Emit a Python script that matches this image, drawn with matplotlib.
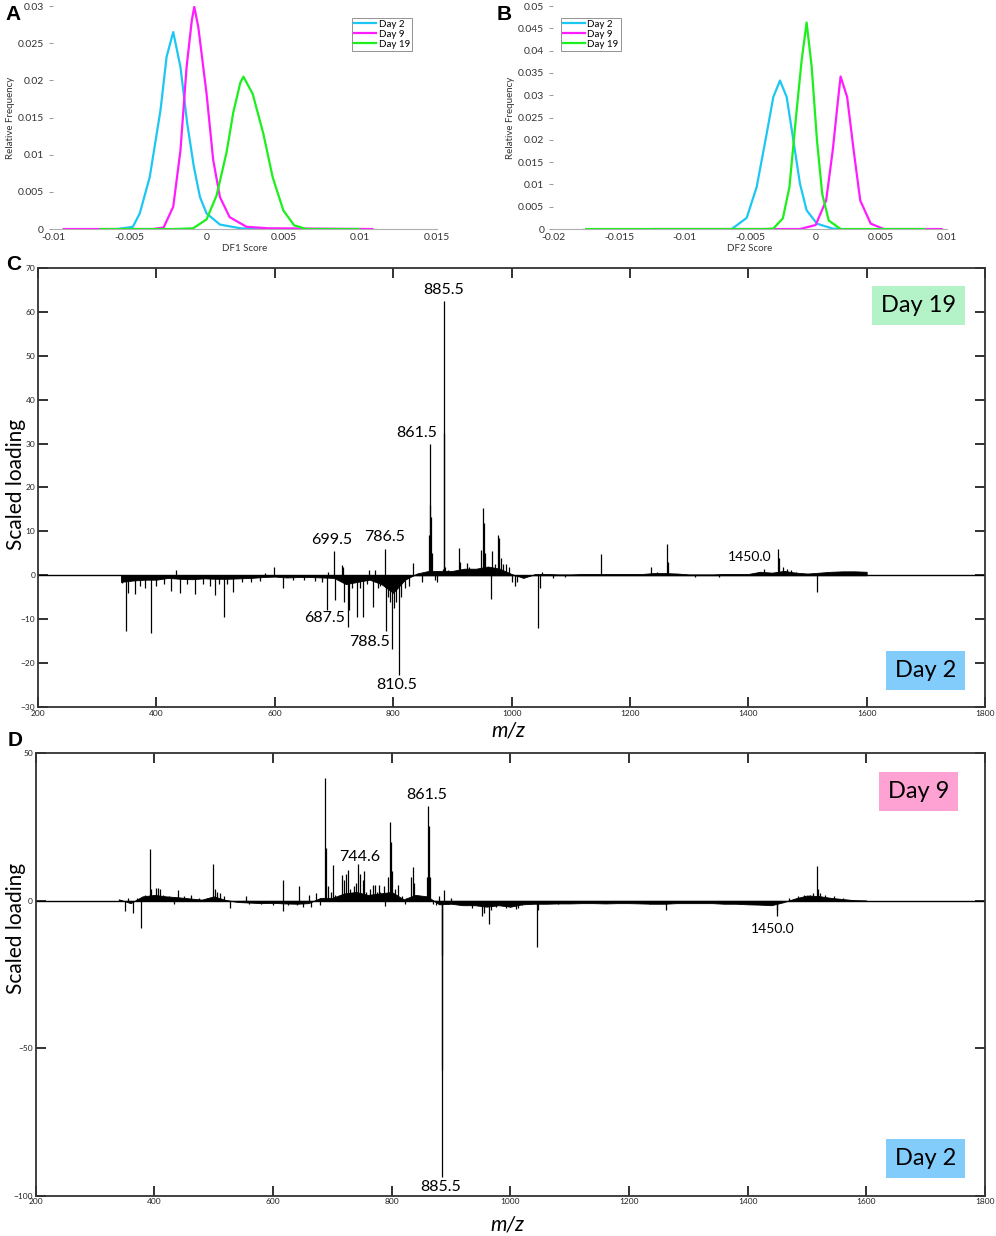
import matplotlib
matplotlib.use("Agg")
import matplotlib.pyplot as plt

plt.rcParams['font.family'] = ['Lato', 'DejaVu Sans']

# ---- panel A: DF1 score distributions ----
a_day2_x = [-0.0058, -0.0048, -0.00435, -0.0037, -0.0030, -0.0026, -0.00217, -0.0017, -0.00126, -0.00083, -0.00043, 0.0, 0.00087, 0.0022, 0.0035]
a_day2_y = [0, 0.0003, 0.0021, 0.007, 0.016, 0.0232, 0.0265, 0.0218, 0.0142, 0.0084, 0.0043, 0.0021, 0.0006, 0.0001, 0]
a_day9_x = [-0.0093, -0.0035, -0.0028, -0.00217, -0.0017, -0.0013, -0.00096, -0.0008, -0.00054, 0.0, 0.00043, 0.00087, 0.0015, 0.0026, 0.004, 0.0108]
a_day9_y = [0, 0, 0.0002, 0.003, 0.0106, 0.0218, 0.0281, 0.0299, 0.0272, 0.0182, 0.0093, 0.0043, 0.0016, 0.0003, 0.0001, 0]
a_day19_x = [-0.0069, -0.002, -0.00087, 0.0, 0.00065, 0.0013, 0.00174, 0.0022, 0.0024, 0.003, 0.0037, 0.0043, 0.005, 0.0057, 0.0065, 0.0099]
a_day19_y = [0, 0, 0.0001, 0.0013, 0.0045, 0.0103, 0.0157, 0.0197, 0.0205, 0.0182, 0.0128, 0.007, 0.0025, 0.0005, 0, 0]

# ---- panel B: DF2 score distributions ----
b_day2_x = [-0.0064, -0.00526, -0.0045, -0.00374, -0.00323, -0.00272, -0.00221, -0.0017, -0.0012, -0.00069, 0.0001, 0.0013, 0.002]
b_day2_y = [0, 0.0025, 0.0094, 0.0213, 0.0296, 0.0333, 0.0296, 0.0199, 0.0102, 0.0042, 0.0012, 0.0001, 0]
b_day9_x = [-0.0125, -0.0012, 0.0, 0.0008, 0.0013, 0.0017, 0.0019, 0.0024, 0.0029, 0.0034, 0.0042, 0.0052, 0.0096]
b_day9_y = [0, 0, 0.0009, 0.0064, 0.0176, 0.0288, 0.0342, 0.0296, 0.0176, 0.0064, 0.0012, 0, 0]
b_day19_x = [-0.0175, -0.004, -0.00323, -0.0025, -0.002, -0.0015, -0.00107, -0.00069, -0.0003, 0.0001, 0.0005, 0.001, 0.0019, 0.0083]
b_day19_y = [0, 0, 0.0001, 0.0024, 0.0094, 0.0251, 0.0378, 0.0463, 0.0363, 0.0199, 0.0079, 0.0019, 0, 0]

# ---- panel C: DF1 loadings (Day 19 vs Day 2) ----
c_base_mz = list(range(340, 1601, 20))
c_base_val = [-1.5, -1.2, -1.0, -1.0, -0.6, -0.8, -0.9, -0.7, -0.8, -0.8, -0.7, -0.6, -0.4, -0.3, -0.5, -0.4,
              -0.4, -0.5, -0.6, -2.0, -1.5, -1.0, -2.0, -4.0, -1.0, 0.4, 1.0, 1.0, 1.0, 1.5, 1.5, 2.0,
              1.5, 0.3, -0.6, 0.3, 0.3, 0.2, 0.2, 0.3, 0.3, 0.3, 0.3, 0.3, 0.3, 0.5, 0.5, 0.4,
              0.2, 0.2, 0.2, 0.3, 0.3, 0.3, 0.8, 0.6, 1.0, 0.6, 0.4, 0.6, 0.8, 0.9, 0.9, 0.8]
c_peak_mz = [342, 348.5, 352, 364, 372, 380, 391, 400, 412, 425, 433, 440, 452, 465, 478, 490, 499, 505,
             514.8, 520, 529, 545, 560, 575, 583, 598.6, 614, 630, 650, 668, 680, 687.5, 690, 699.5, 701.7,
             713, 716, 717.5, 723, 725.5, 731, 739, 744, 749.6, 755, 759.7, 766.5, 769, 775, 778, 786.5,
             788.5, 790.6, 795, 798.5, 801, 804, 810.5, 814, 820, 826, 834, 848,
             860, 861.5, 862.5, 864, 865.5, 870, 874, 880, 884, 885.5, 886.5, 888, 893, 900, 905, 911, 913,
             924, 928, 932, 941, 949, 951, 953, 955, 965.5, 967.5, 972, 977, 979, 982, 986, 990, 995,
             1000, 1005, 1010, 1045, 1048, 1052, 1070, 1090, 1151, 1235, 1246, 1262, 1264, 1310, 1350,
             1427, 1450.0, 1452, 1458, 1466, 1472, 1480, 1516]
c_peak_val = [-1.8, -12.7, -4.0, -4.2, -2.5, -2.8, -13.1, -2.5, -2.0, -3.5, 1.1, -4.0, -2.0, -4.2, -2.0, -2.5, -4.5, -2.0,
              -9.6, -2.0, -3.8, -1.5, -1.5, -1.2, 0.6, 2.0, -2.8, -1.0, -1.0, -1.2, -1.5, -8.0, 0.8, 5.5, -5.7,
              2.3, 2.0, -6.0, -11.8, -8.0, -3.0, -9.5, -3.0, -9.6, -2.0, 1.3, -7.2, 1.3, -3.0, -2.5, 6.1,
              -12.7, -5.0, -6.0, -16.9, -7.5, -6.0, -22.8, -5.0, -3.0, -2.5, 2.7, -1.5,
              9.1, 30.0, 16.0, 13.3, 5.0, -1.0, -1.5, 0.8, 1.5, 62.5, 32.5, 2.0, 1.2, 0.8, 1.0, 6.3, 3.0,
              2.7, 2.0, 1.5, 1.2, 5.7, 15.4, 12.0, 5.0, -5.5, 5.5, 2.5, 9.1, 8.6, 4.0, 2.5, 2.5, 2.0,
              -1.5, -2.5, -1.5, -12.0, -3.0, 0.8, -0.6, -0.5, 4.9, 2.0, 0.8, 7.2, 3.0, -0.4, -0.3,
              1.5, 5.9, 4.0, 2.0, 1.5, 1.2, 0.8, -3.8]
c_labels = ['885.5', '861.5', '699.5', '786.5', '687.5', '788.5', '810.5', '1450.0']
c_label_mz = [884.6, 839.7, 696.1, 786.1, 684.8, 760.8, 806.0, 1402.7]
c_label_val = [64.9, 32.4, 8.0, 8.7, -9.8, -15.2, -25.0, 4.1]

# ---- panel D: DF2 loadings (Day 9 vs Day 2) ----
d_base_mz = list(range(340, 1601, 20))
d_base_val = [0.5, -0.8, 1.5, 2.0, 1.5, 1.2, 0.8, 0.4, 1.5, 0.3, -0.4, -0.6, -0.8, -0.7, -0.9, -1.0,
              -0.8, 1.0, 1.0, 2.5, 3.0, 2.0, 2.5, 3.0, 0.5, 2.0, 1.5, -1.2, -1.0, -1.5, -1.5, -2.0,
              -1.5, -2.0, -1.2, -1.0, -1.0, -0.9, -0.9, -0.8, -0.8, -0.9, -0.8, -0.8, -0.9, -1.0, -1.0, -0.8,
              -0.8, -0.8, -0.8, -1.0, -1.0, -1.2, -1.3, -1.5, -0.5, 0.8, 1.8, 1.6, 1.0, 0.6, 0.2, 0.1]
d_peak_mz = [349.8, 355, 364.4, 370, 376.8, 385, 391.9, 395, 402, 406, 409, 415, 425, 433, 440, 450, 462, 475,
             499, 502, 505, 511, 518, 528, 555, 560, 580, 600, 616.4, 617, 625, 640, 643.3, 650, 660, 664,
             673, 680, 687, 688.5, 692, 697, 701, 705, 716.3, 719, 723, 726.4, 730, 737, 739.6, 743.2,
             746.5, 751, 752.7, 757, 764, 768, 772, 775, 778, 781, 787.5, 789, 793, 796.5, 798.8, 801,
             805, 810, 817, 822, 833, 835.3, 837, 845, 855, 859, 861, 862.5, 864, 870, 875, 880,
             884, 885, 885.5, 889, 895, 900, 915, 935, 952, 955, 960, 964.8, 968, 975, 985, 993,
             1000, 1010, 1013, 1020, 1044.6, 1047, 1080, 1235, 1261.7, 1300, 1448.6, 1450, 1470, 1485,
             1495, 1505, 1510, 1516, 1518, 1522, 1530, 1545, 1560]
d_peak_val = [-3.6, 1.0, -4.0, 0.8, -9.3, 2.0, 17.6, 4.0, 4.3, 4.3, 4.0, 2.0, 1.5, -1.0, 3.5, 1.5, 2.0, 0.8,
              12.4, 4.0, 3.0, 2.8, 1.5, -2.3, 1.5, -1.0, -1.2, -1.3, 7.1, -3.4, -1.5, -1.5, 4.9, -2.0, 2.0, -2.0,
              2.7, -1.5, 41.6, 18.0, 5.0, 3.0, 12.0, 2.0, 8.8, 7.0, 9.0, 10.5, 4.0, 5.0, 6.0, 12.4,
              9.0, 7.0, 10.2, 3.0, 4.0, 5.4, 5.4, 3.0, 5.4, 3.0, 4.9, -1.9, 8.0, 26.7, 20.1, 10.0,
              4.0, 5.4, 1.5, -1.2, 8.0, 11.5, 6.0, 1.0, 1.0, 8.0, 32.2, 25.2, 8.0, -1.0, -1.5, 1.5,
              -18.3, -57.3, -93.5, 3.7, -1.2, 1.0, -1.0, -2.5, -5.0, -4.0, -1.5, -7.8, -3.0, -2.0, -1.5, -2.5,
              -2.0, -2.8, -2.5, -1.5, -15.5, -3.0, -1.0, -1.0, -3.2, -0.5, -5.3, -3.0, 1.0, 1.5,
              2.0, 2.0, 2.5, 11.9, 4.0, 2.5, 2.0, 1.5, 1.0]
d_labels = ['861.5', '744.6', '885.5', '1450.0']
d_label_mz = [859.4, 746.0, 883.0, 1441.9]
d_label_val = [36.0, 15.0, -96.9, -9.6]

CYAN = '#1cc8f2'
MAGENTA = '#ff1cff'
GREEN = '#1cf01c'

fig = plt.figure(figsize=(9.96, 12.36), dpi=100)


def dist_panel(ax, curves, xlim, ylim, xticks, yticks, xlabel, legend_loc):
    for x, y, c, lab in curves:
        ax.plot(x, y, color=c, lw=1.6, label=lab)
    ax.set_xlim(*xlim)
    ax.set_ylim(*ylim)
    ax.set_xticks(xticks)
    ax.set_yticks(yticks)
    ax.set_xticklabels([f'{t:g}' for t in xticks])
    ax.set_yticklabels([f'{t:g}' for t in yticks])
    for s in ['top', 'right', 'left']:
        ax.spines[s].set_visible(False)
    ax.spines['bottom'].set_color('#b0b0b0')
    ax.tick_params(axis='both', labelsize=7.5, colors='#333333', width=0.6)
    ax.tick_params(axis='y', length=3, color='#888888')
    ax.tick_params(axis='x', length=0, pad=3)
    ax.set_ylabel('Relative Frequency', fontsize=7, color='#333333', labelpad=2)
    ax.set_xlabel(xlabel, fontsize=7, color='#333333', labelpad=1)
    leg = ax.legend(loc=legend_loc, fontsize=7, frameon=True, fancybox=False,
                    handlelength=2.2, handletextpad=0.3, borderpad=0.2, labelspacing=0.1,
                    borderaxespad=0.3)
    leg.get_frame().set_edgecolor('#777777')
    leg.get_frame().set_linewidth(0.7)


axA = fig.add_axes([0.0532, 0.8147, 0.3855, 0.1804])
dist_panel(axA, [(a_day2_x, a_day2_y, CYAN, 'Day 2'),
                 (a_day9_x, a_day9_y, MAGENTA, 'Day 9'),
                 (a_day19_x, a_day19_y, GREEN, 'Day 19')],
           (-0.01, 0.015), (0, 0.03),
           [-0.01, -0.005, 0, 0.005, 0.01, 0.015],
           [0, 0.005, 0.01, 0.015, 0.02, 0.025, 0.03], 'DF1 Score', (0.78, 0.80))

axB = fig.add_axes([0.5556, 0.8147, 0.395, 0.1804])
dist_panel(axB, [(b_day2_x, b_day2_y, CYAN, 'Day 2'),
                 (b_day9_x, b_day9_y, MAGENTA, 'Day 9'),
                 (b_day19_x, b_day19_y, GREEN, 'Day 19')],
           (-0.02, 0.01), (0, 0.05),
           [-0.02, -0.015, -0.01, -0.005, 0, 0.005, 0.01],
           [0, 0.005, 0.01, 0.015, 0.02, 0.025, 0.03, 0.035, 0.04, 0.045, 0.05], 'DF2 Score', (0.02, 0.80))


def loading_panel(ax, base_mz, base_val, peak_mz, peak_val, ylim, yticks,
                  labels, lab_mz, lab_val, top_box, top_color):
    ax.fill_between(base_mz, 0, base_val, color='k', lw=0.6)
    ax.vlines(peak_mz, 0, peak_val, color='k', lw=0.9)
    ax.axhline(0, color='k', lw=1.0)
    for t, x, y in zip(labels, lab_mz, lab_val):
        fs = 10 if t == '1450.0' else 11.5
        ax.text(x, y, t, ha='center', va='center', fontsize=fs)
    ax.set_xlim(200, 1800)
    ax.set_ylim(*ylim)
    ax.set_xticks(range(200, 1801, 200))
    ax.set_yticks(yticks)
    ax.tick_params(axis='both', direction='in', top=True, right=True, labelsize=6,
                   length=7, width=1.3, colors='#222222', pad=2)
    for s in ax.spines.values():
        s.set_linewidth(1.3)
        s.set_color('#333333')
    ax.text(0.930, 0.914, top_box, transform=ax.transAxes, ha='center', va='center', fontsize=17,
            bbox=dict(boxstyle='square,pad=0.38', fc=top_color, ec='none'))
    ax.text(0.937, 0.084, 'Day 2', transform=ax.transAxes, ha='center', va='center', fontsize=17,
            bbox=dict(boxstyle='square,pad=0.38', fc='#82ccfc', ec='none'))


axC = fig.add_axes([0.0382, 0.428, 0.9508, 0.3552])
loading_panel(axC, c_base_mz, c_base_val, c_peak_mz, c_peak_val, (-30, 70), range(-30, 71, 10),
              c_labels, c_label_mz, c_label_val, 'Day 19', '#b4f2c8')

axD = fig.add_axes([0.0358, 0.0326, 0.9532, 0.3579])
loading_panel(axD, d_base_mz, d_base_val, d_peak_mz, d_peak_val, (-100, 50), [-100, -50, 0, 50],
              d_labels, d_label_mz, d_label_val, 'Day 9', '#fda2d2')

# y labels, x labels and panel letters
fig.text(0.016, 0.6084, 'Scaled loading', rotation=90, ha='center', va='center', fontsize=15)
fig.text(0.016, 0.2492, 'Scaled loading', rotation=90, ha='center', va='center', fontsize=15)
fig.text(0.510, 0.4086, 'm/z', ha='center', va='center', fontsize=15, style='italic')
fig.text(0.509, 0.0089, 'm/z', ha='center', va='center', fontsize=15, style='italic')
for letter, x, y in [('A', 0.006, 0.9880), ('B', 0.499, 0.9880), ('C', 0.006, 0.7860), ('D', 0.008, 0.4010)]:
    fig.text(x, y, letter, ha='left', va='center', fontsize=15, fontweight='bold',
             family=['Liberation Sans', 'DejaVu Sans'])

fig.savefig('out.png', dpi=100)
